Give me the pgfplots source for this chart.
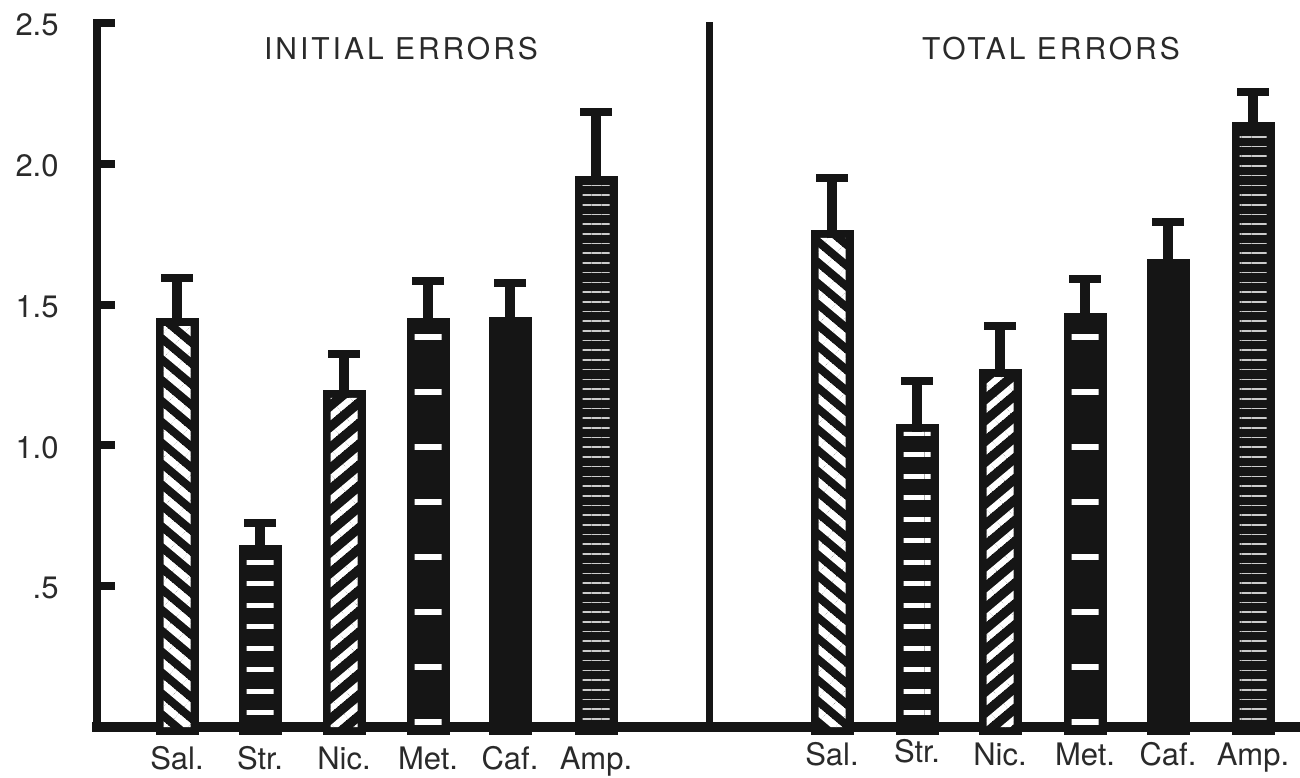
\documentclass[border=0pt]{standalone}
\usepackage{fontspec}
\setmainfont{TeX Gyre Heros}
\usepackage{pgfplots}
\pgfplotsset{compat=1.18}
\usetikzlibrary{patterns.meta}

\tikzdeclarepattern{
  name=mylines,
  parameters={
      \pgfkeysvalueof{/pgf/pattern keys/size},
      \pgfkeysvalueof{/pgf/pattern keys/angle},
      \pgfkeysvalueof{/pgf/pattern keys/line width},
  },
  bounding box={
    (0,-0.5*\pgfkeysvalueof{/pgf/pattern keys/line width}) and
    (\pgfkeysvalueof{/pgf/pattern keys/size},
     0.5*\pgfkeysvalueof{/pgf/pattern keys/line width})},
  tile size={(\pgfkeysvalueof{/pgf/pattern keys/size},
              \pgfkeysvalueof{/pgf/pattern keys/size})},
  tile transformation={rotate=\pgfkeysvalueof{/pgf/pattern keys/angle}},
  defaults={
    size/.initial=5pt,
    angle/.initial=45,
    line width/.initial=.4pt,
  },
  code={
      \draw [line width=\pgfkeysvalueof{/pgf/pattern keys/line width}]
        (0,0) -- (\pgfkeysvalueof{/pgf/pattern keys/size},0);
  },
}

\definecolor{ink}{HTML}{151515}
\definecolor{txt}{HTML}{2A2A2A}

\begin{document}
\begin{tikzpicture}
\begin{axis}[
  width=601.5pt, height=352pt, scale only axis,
  xmin=97, xmax=1300, ymin=0, ymax=2.5,
  axis x line*=bottom, axis y line*=left,
  x axis line style={-, line width=5pt, line cap=rect, ink},
  y axis line style={-, line width=4pt, line cap=rect, ink},
  ytick={0.5,1,1.5,2,2.5},
  yticklabels={.5,1.0,1.5,2.0,2.5},
  ytick style={line width=4pt, ink},
  major tick length=9pt, tick align=inside,
  xtick={177,260,344,428,510,596,832,917,1000,1085,1168,1253},
  xticklabels={\raisebox{-2pt}{Sal.},\raisebox{-2pt}{Str.},\raisebox{-2pt}{Nic.},\raisebox{-2pt}{Met.},\raisebox{-2pt}{Caf.},\raisebox{-2pt}{Amp.},
               Sal.,\raisebox{1.5pt}{Str.},Nic.,Met.,Caf.,Amp.},
  xtick style={draw=none},
  tick label style={font=\fontsize{15.5}{18}\selectfont, text=txt},
  yticklabel style={anchor=east, inner sep=0pt, xshift=-19pt, yshift=-1pt},
  xticklabel style={anchor=base, inner sep=0pt, yshift=-10pt},
  /pgf/number format/assume math mode=true,
  ybar, bar width=13.5pt, bar shift=0pt,
  clip=false,
  error bars/error bar style={line width=5pt, draw=ink},
  error bars/error mark=|,
  error bars/error mark options={line width=4pt, mark size=8pt, ink},
  barstyle/.style={fill=ink, draw=none, preaction={draw=ink, line width=8pt}},
]
% Sal.
\addplot[barstyle,
  postaction={pattern={mylines[size=8pt,angle=-40,line width=3.8pt]}, pattern color=white},
  error bars/.cd, y dir=plus, y explicit]
  coordinates {(177,1.424) +- (0,0.170) (832,1.737) +- (0,0.213)};
% Str.
\addplot[barstyle,
  postaction={pattern={mylines[size=10.75pt,angle=0,line width=2.5pt]}, pattern color=white},
  error bars/.cd, y dir=plus, y explicit]
  coordinates {(260,0.618) +- (0,0.106) (917,1.048) +- (0,0.181)};
% Nic.
\addplot[barstyle,
  postaction={pattern={mylines[size=8pt,angle=40,line width=3.2pt]}, pattern color=white},
  error bars/.cd, y dir=plus, y explicit]
  coordinates {(344,1.169) +- (0,0.156) (1000,1.243) +- (0,0.181)};
% Met.
\addplot[barstyle,
  postaction={pattern={mylines[size=27.5pt,angle=0,line width=3pt]}, pattern color=white},
  error bars/.cd, y dir=plus, y explicit]
  coordinates {(428,1.424) +- (0,0.160) (1085,1.442) +- (0,0.149)};
% Caf.
\addplot[barstyle,
  error bars/.cd, y dir=plus, y explicit]
  coordinates {(510,1.428) +- (0,0.149) (1168,1.634) +- (0,0.159)};
% Amp.
\addplot[barstyle,
  postaction={pattern={mylines[size=4.85pt,angle=0,line width=0.8pt]}, pattern color=white!80!black},
  error bars/.cd, y dir=plus, y explicit]
  coordinates {(596,1.929) +- (0,0.255) (1253,2.120) +- (0,0.135)};

\draw[line width=3.5pt, ink] (axis cs:709,0) -- (axis cs:709,2.503);
\node[font=\fontsize{15}{18}\selectfont, text=txt] at (axis cs:401,2.411) {\addfontfeatures{LetterSpace=10}INITIAL ERRORS};
\node[font=\fontsize{15}{18}\selectfont, text=txt] at (axis cs:1051,2.411) {\addfontfeatures{LetterSpace=10}TOTAL ERRORS};
\coordinate (bl) at (axis cs:0,-0.1776);
\coordinate (tr) at (axis cs:1300,2.5817);
\end{axis}
\pgfresetboundingbox
\path[use as bounding box] (bl) rectangle (tr);
\end{tikzpicture}
\end{document}
